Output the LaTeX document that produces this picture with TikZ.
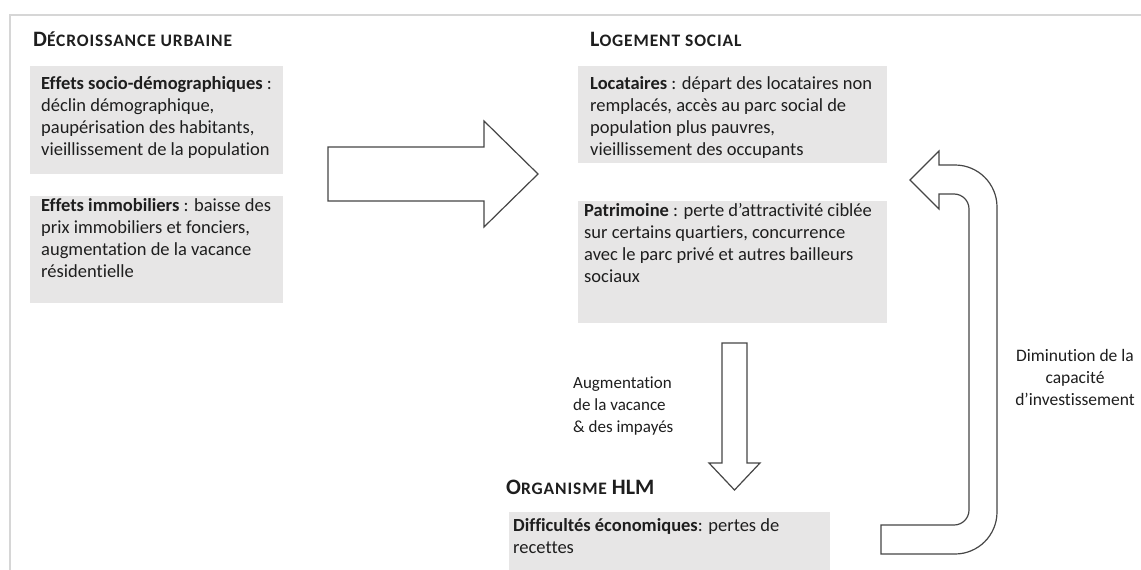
\documentclass[tikz,border=0pt]{standalone}
\usepackage{fontspec}
\setmainfont{Carlito}[Ligatures=NoCommon]
\definecolor{boxgray}{RGB}{231,230,230}
\definecolor{framegray}{RGB}{214,214,214}
\definecolor{arrowgray}{RGB}{70,70,70}
\definecolor{txtcol}{RGB}{30,30,30}
\newcommand{\HBig}[1]{{\fontsize{22}{22}\selectfont #1}}
\newcommand{\HSml}[1]{{\fontsize{17.5}{17.5}\selectfont\addfontfeature{LetterSpace=5}#1}}
\tikzset{
  graybox/.style={fill=boxgray, draw=none, inner sep=0pt, anchor=north west},
  txt/.style={inner sep=0pt, anchor=north west, align=left, text=txtcol,
    font=\fontsize{18.5}{22}\selectfont},
  ltxt/.style={inner sep=0pt, anchor=north west, align=left, text=txtcol,
    font=\fontsize{17}{22}\selectfont},
  ctxt/.style={inner sep=0pt, anchor=north, align=center, text=txtcol,
    font=\fontsize{17.5}{22}\selectfont},
  head/.style={inner sep=0pt, anchor=base west, text=txtcol, font=\bfseries},
  blockarrow/.style={draw=arrowgray, line width=1.2pt, fill=white, line join=miter}
}
\begin{document}
\begin{tikzpicture}[x=1pt, y=-1pt]
\useasboundingbox (0,0) rectangle (1141,570);
\fill[white] (0,0) rectangle (1141,570);
% frame
\draw[framegray, line width=2pt] (1141,15) -- (10,15) -- (10,570);

% headings
\node[head] (h1) at (33,46) {\HBig{D}\HSml{ÉCROISSANCE URBAINE}};
\node[head] (h2) at (590,46) {\HBig{L}\HSml{OGEMENT SOCIAL}};
\node[head] (h3) at (506,494) {\HBig{O}\HSml{RGANISME}\hspace{5pt}\HBig{HLM}};

% gray boxes
\node[graybox, minimum width=253pt, minimum height=108pt] (b1) at (30,66) {};
\node[graybox, minimum width=253pt, minimum height=107pt] (b2) at (30,196) {};
\node[graybox, minimum width=309pt, minimum height=97pt] (b3) at (578,66) {};
\node[graybox, minimum width=309pt, minimum height=122pt] (b4) at (578,201) {};
\node[graybox, minimum width=321pt, minimum height=58pt] (b5) at (509,512) {};

% box texts
\node[txt] (t1) at (41,76) {\textbf{Effets socio-démographiques} :\\déclin démographique,\\paupérisation des habitants,\\vieillissement de la population};
\node[txt] (t2) at (41,198) {\textbf{Effets immobiliers} : baisse des\\prix immobiliers et fonciers,\\augmentation de la vacance\\résidentielle};
\node[txt] (t3) at (590,76) {\textbf{Locataires} : départ des locataires non\\remplacés, accès au parc social de\\population plus pauvres,\\vieillissement des occupants};
\node[txt] (t4) at (584,203) {\textbf{Patrimoine} : perte d’attractivité ciblée\\sur certains quartiers, concurrence\\avec le parc privé et autres bailleurs\\sociaux};
\node[txt] (t5) at (513,518) {\textbf{Difficultés économiques}: pertes de\\recettes};

% labels
\node[ltxt] (l1) at (573,377) {Augmentation\\de la vacance\\\& des impayés};
\node[ctxt] (l2) at (1075,349) {Diminution de la\\capacité\\d’investissement};

% big right arrow
\draw[blockarrow] (328,147) -- (484,147) -- (484,121) -- (538,174) -- (484,227) -- (484,201) -- (328,201) -- cycle;

% down arrow
\draw[blockarrow] (722,343) -- (747,343) -- (747,463) -- (760,463) -- (734.5,490) -- (709,463) -- (722,463) -- cycle;

% U-turn arrow
\draw[blockarrow] (881,554) -- (955,554) .. controls (978.2,554) and (997,535.2) .. (997,512)
  -- (997,207) .. controls (997,183.8) and (978.2,165) .. (955,165)
  -- (939,165) -- (939,151) -- (910,180) -- (939,209) -- (939,194)
  -- (954,194) .. controls (962.3,194) and (969,200.7) .. (969,209)
  -- (969,510) .. controls (969,518.3) and (962.3,525) .. (954,525)
  -- (881,525) -- cycle;
\end{tikzpicture}
\end{document}
